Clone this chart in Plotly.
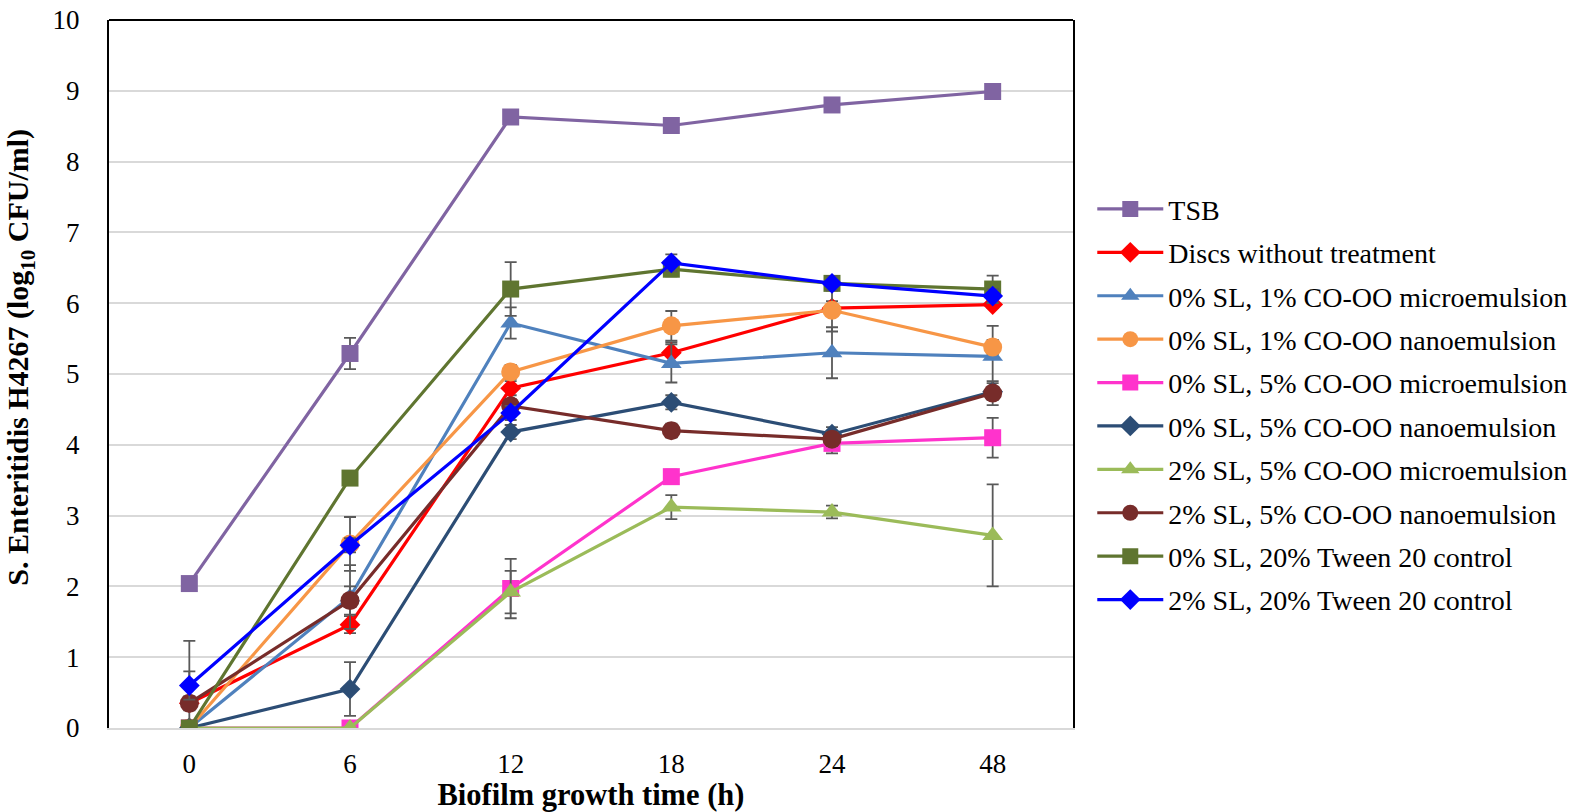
import plotly.graph_objects as go

categories = ["0", "6", "12", "18", "24", "48"]

series_names = [
    "TSB",
    "Discs without treatment",
    "0% SL, 1% CO-OO microemulsion",
    "0% SL, 1% CO-OO nanoemulsion",
    "0% SL, 5% CO-OO microemulsion",
    "0% SL, 5% CO-OO nanoemulsion",
    "2% SL, 5% CO-OO microemulsion",
    "2% SL, 5% CO-OO nanoemulsion",
    "0% SL, 20% Tween 20 control",
    "2% SL, 20% Tween 20 control",
]

tsb = [2.04, 5.29, 8.63, 8.51, 8.80, 8.99]
discs = [0.35, 1.46, 4.80, 5.30, 5.93, 5.98]
sl0_co1_micro = [0.0, 1.85, 5.72, 5.15, 5.30, 5.25]
sl0_co1_nano = [0.0, 2.60, 5.03, 5.68, 5.90, 5.38]
sl0_co5_micro = [0.0, 0.0, 1.97, 3.55, 4.02, 4.10]
sl0_co5_nano = [0.0, 0.55, 4.18, 4.60, 4.15, 4.75]
sl2_co5_micro = [0.0, 0.0, 1.92, 3.12, 3.05, 2.72]
sl2_co5_nano = [0.35, 1.80, 4.55, 4.20, 4.08, 4.73]
sl0_tween = [0.0, 3.53, 6.20, 6.48, 6.28, 6.20]
sl2_tween = [0.60, 2.58, 4.45, 6.57, 6.28, 6.10]

tsb_err = [0.05, 0.22, 0.05, 0.05, 0.05, 0.05]
discs_err = [0.10, 0.12, 0.10, 0.15, 0.10, 0.05]
sl0_co1_micro_err = [0.0, 0.45, 0.22, 0.27, 0.36, 0.43]
sl0_co1_nano_err = [0.0, 0.38, 0.10, 0.21, 0.30, 0.10]
sl0_co5_micro_err = [0.0, 0.0, 0.42, 0.10, 0.14, 0.28]
sl0_co5_nano_err = [0.0, 0.38, 0.10, 0.10, 0.10, 0.12]
sl2_co5_micro_err = [0.0, 0.0, 0.30, 0.17, 0.09, 0.72]
sl2_co5_nano_err = [0.88, 0.20, 0.10, 0.10, 0.10, 0.17]
sl0_tween_err = [0.0, 0.10, 0.38, 0.10, 0.10, 0.19]
sl2_tween_err = [0.20, 0.10, 0.10, 0.12, 0.10, 0.10]

values = [tsb, discs, sl0_co1_micro, sl0_co1_nano, sl0_co5_micro,
          sl0_co5_nano, sl2_co5_micro, sl2_co5_nano, sl0_tween, sl2_tween]
errors = [tsb_err, discs_err, sl0_co1_micro_err, sl0_co1_nano_err, sl0_co5_micro_err,
          sl0_co5_nano_err, sl2_co5_micro_err, sl2_co5_nano_err, sl0_tween_err, sl2_tween_err]

colors = ["#8064A2", "#FF0000", "#4F81BD", "#F79646", "#FF33CC",
          "#2C4D75", "#9BBB59", "#772C2A", "#5F7530", "#0000FF"]
symbols = ["square", "diamond", "triangle-up", "circle", "square",
           "diamond", "triangle-up", "circle", "square", "diamond"]
sizes = [17, 16, 18, 19, 17, 16, 18, 19, 17, 16]

FONT = "Liberation Serif, Times New Roman, serif"

fig = go.Figure()
for i, name in enumerate(series_names):
    fig.add_trace(go.Scatter(
        x=categories, y=values[i], name=name, mode="lines+markers",
        legendgroup=f"g{i}",
        line=dict(color=colors[i], width=3.2),
        marker=dict(color=colors[i], symbol=symbols[i], size=sizes[i], line=dict(width=0)),
        error_y=dict(type="data", array=errors[i], visible=True,
                     color="#595959", thickness=1.8, width=6),
    ))

fig.update_layout(
    width=1585, height=812,
    margin=dict(l=109, r=512, t=20, b=84, autoexpand=False),
    plot_bgcolor="white", paper_bgcolor="white",
    font=dict(family=FONT, color="black", size=27),
    showlegend=True,
    legend=dict(x=1.02, y=0.768, xanchor="left", yanchor="top",
                font=dict(family=FONT, size=28, color="black"),
                itemwidth=66, tracegroupgap=4, bgcolor="rgba(0,0,0,0)"),
    xaxis=dict(type="category", range=[-0.5, 5.5], automargin=False,
               showline=True, linecolor="#D9D9D9", linewidth=2,
               showgrid=False, ticks="outside", ticklen=11, tickcolor="rgba(0,0,0,0)",
               tickfont=dict(size=27, family=FONT),
               title=dict(text="<b>Biofilm growth time (h)</b>", font=dict(size=30.5, family=FONT), standoff=4)),
    yaxis=dict(range=[0, 10], dtick=1, showline=True, linecolor="black", linewidth=2,
               mirror=True, showgrid=True, gridcolor="#D9D9D9", gridwidth=1.5, automargin=False,
               zeroline=False, ticks="outside", ticklen=22, tickcolor="rgba(0,0,0,0)",
               tickfont=dict(size=27, family=FONT)),
    annotations=[dict(text="<b>S. Enteritidis H4267 (log<sub>10</sub> CFU/ml)</b>",
                      xref="paper", yref="paper", x=(20 - 109) / 964, y=0.523,
                      xanchor="center", yanchor="middle", textangle=-90, showarrow=False,
                      font=dict(size=30, family=FONT, color="black"))],
    shapes=[dict(type="line", xref="paper", yref="paper", x0=0, x1=1, y0=1, y1=1,
                 line=dict(color="black", width=2))],
)

fig.write_html("out.html")
